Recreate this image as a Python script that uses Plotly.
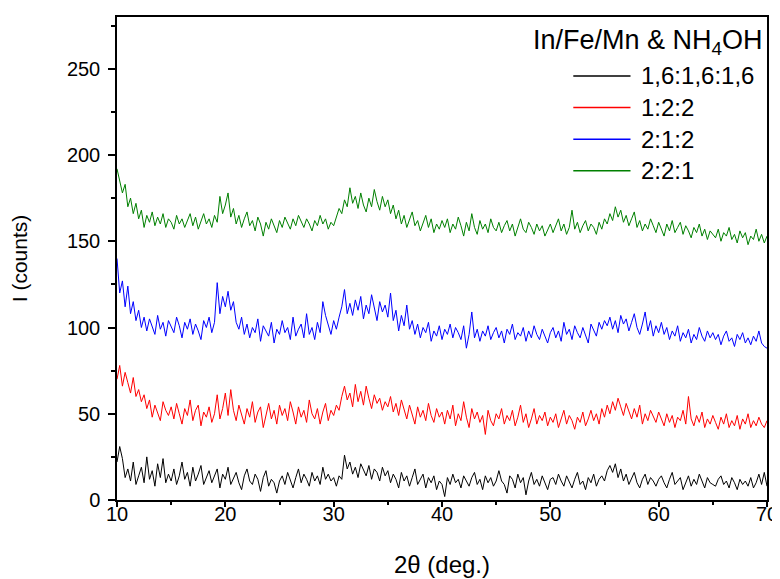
import numpy as np
import plotly.graph_objects as go

# 2-theta grid: 10 to 70 deg, step 0.25
x_start, x_end, x_step = 10.0, 70.0, 0.25

names = ["1,6:1,6:1,6", "1:2:2", "2:1:2", "2:2:1"]
colors = ["#000000", "#FF0000", "#0000FF", "#008000"]
legend_title = "In/Fe/Mn & NH<sub>4</sub>OH"

black_vals = [
    22, 31, 24, 13, 18, 11, 22, 9, 14, 19, 10, 25, 12, 17, 8, 21, 13, 24, 10, 15, 11,
    18, 9, 14, 22, 12, 16, 8, 19, 11, 15, 20, 9, 13, 17, 10, 14, 18, 7, 15, 12,
    19, 9, 13, 16, 10, 6, 14, 18, 11, 9, 15, 12, 5, 13, 17, 8, 12, 10, 4, 11,
    14, 9, 16, 11, 7, 13, 18, 10, 15, 12, 8, 16, 11, 14, 9, 19, 12, 15, 11, 13,
    8, 14, 12, 26, 18, 22, 15, 19, 13, 21, 17, 14, 20, 12, 18, 16, 11, 19, 14, 17,
    10, 15, 12, 7, 16, 11, 14, 8, 13, 18, 9, 12, 15, 7, 13, 10, 14, 6, 11, 9,
    2, 13, 9, 15, 10, 12, 7, 14, 11, 8, 13, 16, 9, 12, 6, 14, 10, 13, 8, 11,
    17, 11, 9, 4, 14, 12, 7, 15, 10, 13, 3, 11, 16, 9, 12, 8, 14, 10, 6, 12,
    13, 9, 15, 11, 8, 14, 10, 7, 12, 16, 9, 11, 6, 13, 10, 15, 8, 12, 14, 11,
    17, 20, 16, 21, 13, 18, 11, 15, 9, 13, 16, 10, 7, 12, 15, 9, 13, 11, 8, 12,
    14, 10, 7, 12, 16, 9, 11, 13, 6, 10, 14, 8, 12, 9, 15, 11, 7, 13, 10, 9,
    8, 12, 14, 9, 11, 7, 13, 10, 6, 12, 9, 11, 8, 13, 7, 10, 15, 9, 16, 8,
]

red_vals = [
    70, 78, 66, 74, 68, 62, 71, 60, 64, 57, 61, 53, 58, 48, 55, 51, 46, 57, 52, 49, 54,
    47, 56, 50, 44, 53, 49, 58, 46, 52, 55, 43, 51, 48, 54, 45, 50, 61, 47, 53, 62,
    49, 64, 52, 46, 55, 50, 44, 53, 48, 57, 45, 51, 54, 42, 50, 56, 47, 52, 44, 55,
    49, 53, 46, 57, 51, 44, 54, 48, 52, 45, 58, 50, 47, 53, 44, 51, 56, 46, 52, 49,
    55, 52, 60, 66, 58, 62, 54, 67, 57, 63, 55, 66, 59, 53, 61, 56, 59, 52, 57, 54,
    60, 51, 56, 49, 58, 53, 47, 55, 50, 44, 54, 48, 52, 46, 56, 49, 45, 53, 48, 51,
    44, 52, 47, 55, 43, 50, 46, 57, 48, 42, 53, 47, 51, 45, 49, 38, 52, 46, 43, 50,
    47, 53, 44, 49, 46, 52, 43, 48, 55, 45, 50, 42, 47, 53, 44, 49, 46, 51, 43, 48,
    45, 50, 42, 47, 52, 44, 49, 46, 41, 48, 45, 51, 43, 47, 52, 46, 50, 44, 53, 48,
    55, 50, 57, 52, 59, 54, 49, 56, 51, 47, 53, 48, 55, 44, 50, 46, 52, 48, 45, 51,
    47, 43, 50, 45, 49, 42, 48, 46, 52, 44, 60, 47, 43, 49, 45, 51, 42, 47, 44, 49,
    45, 41, 48, 44, 50, 42, 46, 43, 49, 41, 47, 44, 50, 42, 46, 43, 48, 44, 42, 46,
]

blue_vals = [
    140, 120, 127, 112, 124, 108, 115, 104, 110, 100, 106, 98, 105, 101, 96, 107, 99, 103, 95, 104, 100,
    97, 106, 101, 94, 103, 99, 105, 96, 102, 98, 93, 104, 100, 106, 97, 103, 126, 108, 118, 112,
    121, 110, 115, 103, 99, 106, 96, 102, 94, 100, 97, 105, 92, 101, 98, 95, 103, 91, 99, 96,
    104, 97, 100, 93, 106, 95, 99, 102, 94, 108, 96, 100, 93, 103, 97, 115, 107, 101, 96, 104,
    99, 106, 112, 122, 108, 114, 107, 116, 110, 118, 105, 113, 108, 119, 111, 104, 115, 109, 113, 106,
    120, 104, 110, 98, 107, 101, 113, 99, 104, 96, 102, 94, 100, 97, 103, 92, 98, 95, 101, 93,
    99, 96, 102, 94, 100, 97, 93, 101, 88, 96, 109, 94, 99, 92, 98, 95, 101, 93, 97, 100,
    94, 98, 91, 99, 96, 102, 93, 97, 95, 100, 92, 98, 94, 101, 96, 93, 99, 95, 91, 97,
    100, 94, 98, 92, 103, 96, 99, 93, 101, 97, 94, 100, 96, 91, 102, 98, 95, 103, 99, 104,
    101, 106, 99, 104, 97, 107, 102, 105, 98, 103, 108, 100, 96, 102, 109, 98, 104, 95, 101, 97,
    103, 96, 100, 93, 98, 95, 101, 92, 97, 94, 99, 91, 96, 93, 100, 95, 92, 98, 94, 97,
    93, 96, 90, 95, 98, 92, 94, 89, 96, 93, 97, 91, 94, 90, 95, 92, 98, 91, 89, 88,
]

green_vals = [
    192, 185, 178, 183, 170, 175, 166, 172, 163, 168, 158, 165, 161, 167, 159, 164, 160, 166, 158, 163, 161,
    157, 165, 160, 163, 158, 162, 166, 159, 164, 157, 161, 166, 160, 163, 158, 165, 161, 176, 166, 171,
    178, 164, 169, 160, 165, 158, 163, 167, 159, 162, 156, 164, 160, 153, 161, 157, 163, 159, 155, 162,
    158, 164, 160, 157, 163, 159, 165, 161, 158, 163, 160, 156, 162, 159, 165, 160, 163, 157, 161, 159,
    164, 169, 166, 174, 170, 181, 172, 176, 169, 178, 171, 167, 175, 170, 180, 173, 168, 176, 170, 174,
    166, 171, 163, 168, 160, 165, 158, 163, 167, 159, 162, 156, 161, 165, 158, 163, 155, 160, 157, 162,
    158, 163, 155, 160, 157, 164, 159, 153, 161, 156, 166, 158, 154, 162, 157, 160, 155, 163, 158, 156,
    161, 155, 159, 162, 156, 160, 153, 158, 163, 157, 155, 161, 158, 154, 160, 156, 159, 153, 157, 160,
    155, 159, 163, 156, 160, 154, 158, 168, 157, 161, 155, 159, 162, 156, 160, 158, 154, 161, 157, 163,
    160, 166, 162, 170, 164, 168, 161, 165, 159, 163, 167, 158, 162, 156, 160, 157, 163, 159, 155, 161,
    157, 153, 160, 156, 162, 155, 158, 161, 154, 159, 156, 152, 158, 155, 160, 153, 157, 151, 156, 154,
    152, 157, 150, 155, 153, 158, 151, 154, 149, 156, 152, 155, 148, 153, 151, 157, 150, 154, 149, 153,
]

series = [black_vals, red_vals, blue_vals, green_vals]

x_tick_vals = [10, 20, 30, 40, 50, 60, 70]
y_tick_vals = [0, 50, 100, 150, 200, 250]

FONT = "Liberation Sans, Arial, sans-serif"

fig = go.Figure()
for name, col, vals in zip(names, colors, series):
    x = x_start + x_step * np.arange(len(vals))
    fig.add_trace(go.Scatter(
        x=x, y=vals, mode="lines", name=name,
        line=dict(color=col, width=1), showlegend=False,
    ))

# Legend drawn in paper coordinates (long sample lines, as in the original)
leg_title_y = 0.948
leg_row_y0, leg_row_step = 0.878, 0.0655
line_x0, line_x1, text_x = 0.702, 0.790, 0.803
fig.add_annotation(
    text=legend_title, xref="paper", yref="paper", x=0.997, y=leg_title_y,
    xanchor="right", yanchor="middle", showarrow=False, font=dict(size=27),
)
for i, (name, col) in enumerate(zip(names, colors)):
    yy = leg_row_y0 - i * leg_row_step
    fig.add_shape(type="line", xref="paper", yref="paper",
                  x0=line_x0, x1=line_x1, y0=yy, y1=yy,
                  line=dict(color=col, width=1.5))
    fig.add_annotation(
        text=name, xref="paper", yref="paper", x=text_x, y=yy,
        xanchor="left", yanchor="middle", showarrow=False, font=dict(size=24),
    )

# the page adds an 8 px body margin, so the figure is 8 px smaller on each axis
fig.update_layout(
    width=772, height=571,
    margin=dict(l=109, r=13, t=9, b=79),
    paper_bgcolor="white", plot_bgcolor="white",
    font=dict(family=FONT, size=20, color="black"),
    showlegend=False,
    xaxis=dict(
        range=[x_start, x_end],
        tickvals=x_tick_vals,
        ticks="outside", ticklen=5, tickwidth=1.5, tickcolor="black",
        minor=dict(ticks="outside", ticklen=3, tickwidth=1.5, tickcolor="black", dtick=5),
        showline=True, linecolor="black", linewidth=1.5, mirror=True,
        showgrid=False, zeroline=False, automargin=False,
        tickfont=dict(size=20), ticklabelstandoff=-10,
        title=dict(text="2θ (deg.)", font=dict(size=24), standoff=32),
    ),
    yaxis=dict(
        range=[0, 280],
        tickvals=y_tick_vals,
        ticks="outside", ticklen=7, tickwidth=1.5, tickcolor="black",
        minor=dict(ticks="outside", ticklen=4, tickwidth=1.5, tickcolor="black", dtick=25),
        showline=True, linecolor="black", linewidth=1.5, mirror=True,
        showgrid=False, zeroline=False, automargin=False,
        tickfont=dict(size=20), ticklabelstandoff=4,
        title=dict(text="I (counts)", font=dict(size=21), standoff=36),
    ),
)

fig.write_html("out.html")
